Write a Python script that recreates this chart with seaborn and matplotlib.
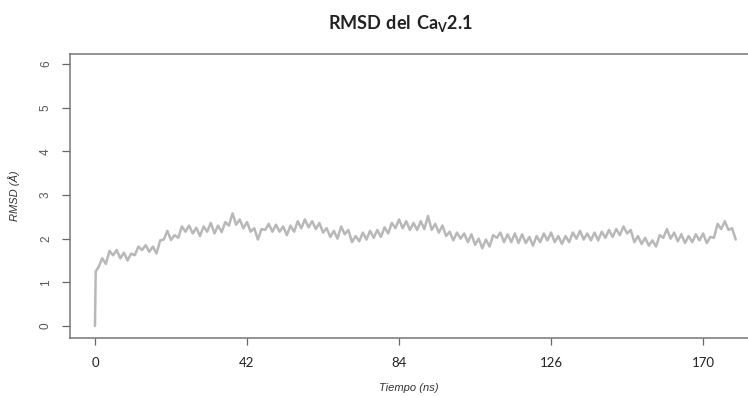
import matplotlib
matplotlib.use('Agg')
import matplotlib.pyplot as plt
import seaborn as sns
import pandas as pd

# Datos (RMSD en Å, tiempo en ns)
tiempo = [0, 0.2] + list(range(1, 178))
rmsd = [0.00, 1.25,
        1.35, 1.55, 1.42, 1.72, 1.62, 1.74, 1.55, 1.68, 1.50, 1.66,
        1.62, 1.82, 1.74, 1.85, 1.70, 1.82, 1.66, 1.96, 1.98, 2.18,
        1.97, 2.08, 2.02, 2.28, 2.16, 2.30, 2.12, 2.25, 2.06, 2.28,
        2.16, 2.36, 2.12, 2.30, 2.15, 2.38, 2.30, 2.58, 2.32, 2.44,
        2.24, 2.38, 2.16, 2.24, 1.98, 2.22, 2.20, 2.34, 2.16, 2.32,
        2.16, 2.28, 2.08, 2.30, 2.16, 2.40, 2.24, 2.44, 2.26, 2.40,
        2.22, 2.36, 2.14, 2.24, 2.04, 2.18, 2.00, 2.28, 2.10, 2.20,
        1.92, 2.06, 1.94, 2.14, 1.98, 2.18, 2.02, 2.20, 2.04, 2.26,
        2.12, 2.36, 2.24, 2.44, 2.24, 2.40, 2.20, 2.36, 2.20, 2.40,
        2.22, 2.52, 2.20, 2.34, 2.14, 2.30, 2.06, 2.16, 1.96, 2.14,
        2.00, 2.12, 1.92, 2.10, 1.86, 2.00, 1.78, 1.98, 1.82, 2.08,
        2.02, 2.14, 1.92, 2.10, 1.92, 2.12, 1.90, 2.10, 1.90, 2.04,
        1.84, 2.06, 1.92, 2.12, 1.96, 2.14, 1.92, 2.06, 1.88, 2.06,
        1.92, 2.14, 2.00, 2.18, 1.98, 2.12, 1.96, 2.14, 1.96, 2.16,
        2.02, 2.20, 2.04, 2.22, 2.08, 2.28, 2.12, 2.20, 1.92, 2.06,
        1.88, 2.02, 1.84, 1.96, 1.82, 2.08, 2.02, 2.22, 2.00, 2.14,
        1.94, 2.10, 1.90, 2.06, 1.92, 2.10, 1.96, 2.12, 1.90, 2.04,
        2.02, 2.34, 2.22, 2.40, 2.20, 2.24, 1.98]

x_ticks = [0, 42, 84, 126, 168]
x_labels = ['0', '42', '84', '126', '170']
y_ticks = [0, 1, 2, 3, 4, 5, 6]

df = pd.DataFrame({'Tiempo': tiempo, 'RMSD': rmsd})

sns.set_style('white')
plt.rcParams['font.family'] = ['Liberation Sans', 'DejaVu Sans']
plt.rcParams['mathtext.fontset'] = 'custom'
plt.rcParams['mathtext.rm'] = 'Lato'
plt.rcParams['mathtext.bf'] = 'Lato:bold'

fig = plt.figure(figsize=(7.48, 3.97), dpi=100)
ax = fig.add_axes([70 / 748, 1 - 338 / 397, 1 - 70 / 748, (338 - 54) / 397])

sns.lineplot(data=df, x='Tiempo', y='RMSD', color='#b8b8b8', linewidth=1.8, ax=ax)

ax.set_xlim(-6.9, 180.4)
ax.set_ylim(-0.275, 6.23)

ax.set_xticks(x_ticks)
ax.set_xticklabels(x_labels, fontfamily='Lato', fontsize=9.5, color='#222222')
ax.set_yticks(y_ticks)
ax.set_yticklabels([str(v) for v in y_ticks], rotation=90, va='center',
                   fontsize=8.5, color='#555555')
ax.tick_params(axis='x', direction='out', length=5, width=0.9, color='#666666', pad=9,
               bottom=True)
ax.tick_params(axis='y', direction='out', length=6, width=0.9, color='#666666', pad=7,
               left=True)

for side in ['left', 'bottom', 'top']:
    ax.spines[side].set_color('#777777')
    ax.spines[side].set_linewidth(1.1)
ax.spines['right'].set_visible(False)

ax.set_xlabel('Tiempo (ns)', fontstyle='italic', fontsize=8, color='#333333', labelpad=10)
ax.set_ylabel('RMSD (Å)', fontstyle='italic', fontsize=8, color='#333333', labelpad=14)

fig.text(0.535, 1 - 24 / 397, r'$\mathbf{RMSD\ del\ Ca_{V}2.1}$', fontsize=13,
         ha='center', va='center', color='#222222')

fig.savefig('out.png', dpi=100)
